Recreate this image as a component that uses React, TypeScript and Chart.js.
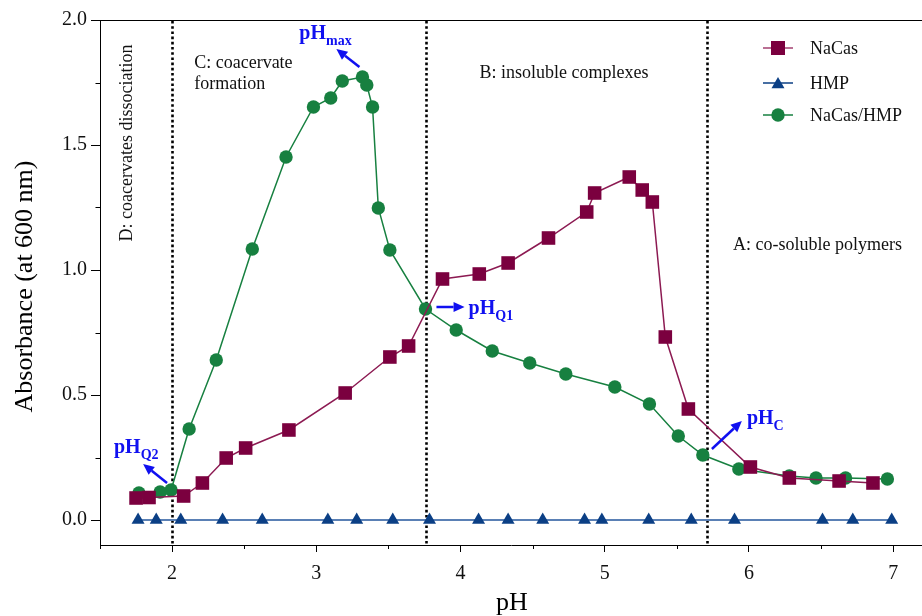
import React, { useEffect, useRef } from "react";
import { Chart, registerables } from "chart.js";

Chart.register(...registerables);

// ---------- data ----------
const nacasPH = [1.75, 1.84, 2.08, 2.21, 2.375, 2.51, 2.81, 3.2, 3.51, 3.64, 3.875, 4.13, 4.33, 4.61, 4.875, 4.93, 5.17, 5.26, 5.33, 5.42, 5.58, 6.01, 6.28, 6.625, 6.86];
const nacasAbs = [0.088, 0.09, 0.096, 0.148, 0.248, 0.288, 0.36, 0.508, 0.652, 0.696, 0.964, 0.984, 1.028, 1.128, 1.232, 1.308, 1.372, 1.32, 1.272, 0.732, 0.444, 0.212, 0.168, 0.156, 0.148];

const hmpPH = [1.764, 1.89, 2.06, 2.35, 2.625, 3.08, 3.28, 3.53, 3.785, 4.125, 4.33, 4.57, 4.86, 4.98, 5.305, 5.6, 5.9, 6.51, 6.72, 6.99];
const hmpAbs = [0, 0, 0, 0, 0, 0, 0, 0, 0, 0, 0, 0, 0, 0, 0, 0, 0, 0, 0, 0];

const mixPH = [1.77, 1.917, 1.993, 2.118, 2.306, 2.556, 2.79, 2.98, 3.1, 3.18, 3.32, 3.35, 3.39, 3.43, 3.51, 3.757, 3.97, 4.22, 4.48, 4.73, 5.07, 5.31, 5.51, 5.68, 5.93, 6.28, 6.465, 6.67, 6.96];
const mixAbs = [0.108, 0.112, 0.12, 0.364, 0.64, 1.084, 1.452, 1.652, 1.688, 1.756, 1.772, 1.74, 1.652, 1.248, 1.08, 0.844, 0.76, 0.676, 0.628, 0.584, 0.532, 0.464, 0.336, 0.26, 0.204, 0.176, 0.168, 0.168, 0.164];

const seriesNames = ["NaCas", "HMP", "NaCas/HMP"];
const xMajorTicks = [2, 3, 4, 5, 6, 7];
const xMinorTicks = [1.5, 2.5, 3.5, 4.5, 5.5, 6.5];
const yMajorTicks = [0, 0.5, 1.0, 1.5, 2.0];
const yMinorTicks = [0.25, 0.75, 1.25, 1.75];

const regionDividers = [2.0, 3.764, 5.708];

const regionLabels = [
  { text: "C: coacervate", x: 2.153, y: 1.828 },
  { text: "formation", x: 2.153, y: 1.744 },
  { text: "B: insoluble complexes", x: 4.132, y: 1.788 },
  { text: "A: co-soluble polymers", x: 5.889, y: 1.1 },
];
const rotatedLabel = { text: "D: coacervates dissociation", x: 1.6875, y: 1.508 };

const phLabels = [
  { sub: "max", x: 2.882, y: 1.944, ax1: 3.299, ay1: 1.812, ax2: 3.139, ay2: 1.884 },
  { sub: "Q1", x: 4.056, y: 0.844, ax1: 3.833, ay1: 0.852, ax2: 4.028, ay2: 0.852 },
  { sub: "Q2", x: 1.597, y: 0.288, ax1: 1.965, ay1: 0.148, ax2: 1.799, ay2: 0.224 },
  { sub: "C", x: 5.986, y: 0.404, ax1: 5.743, ay1: 0.284, ax2: 5.951, ay2: 0.396 },
];

// ---------- styles ----------
const SERIF = '"Liberation Serif", "Times New Roman", serif';
const C_NACAS = "#7b003f";
const C_NACAS_LINE = "#8c1a52";
const C_HMP = "#0b3f85";
const C_HMP_LINE = "#5a80b5";
const C_MIX = "#178040";
const C_BLUE = "#1010f0";

function toPts(xs: number[], ys: number[]) {
  return xs.map((x, i) => ({ x, y: ys[i] }));
}

function drawArrow(ctx: CanvasRenderingContext2D, x1: number, y1: number, x2: number, y2: number) {
  const ang = Math.atan2(y2 - y1, x2 - x1);
  const hl = 11;
  const hw = 5;
  const bx = x2 - hl * Math.cos(ang);
  const by = y2 - hl * Math.sin(ang);
  ctx.save();
  ctx.strokeStyle = C_BLUE;
  ctx.fillStyle = C_BLUE;
  ctx.lineWidth = 2.5;
  ctx.beginPath();
  ctx.moveTo(x1, y1);
  ctx.lineTo(bx, by);
  ctx.stroke();
  ctx.beginPath();
  ctx.moveTo(x2, y2);
  ctx.lineTo(bx + hw * Math.sin(ang), by - hw * Math.cos(ang));
  ctx.lineTo(bx - hw * Math.sin(ang), by + hw * Math.cos(ang));
  ctx.closePath();
  ctx.fill();
  ctx.restore();
}

function drawMarker(ctx: CanvasRenderingContext2D, style: string, x: number, y: number, color: string) {
  ctx.fillStyle = color;
  ctx.beginPath();
  if (style === "rect") {
    ctx.rect(x - 7, y - 7, 14, 14);
  } else if (style === "triangle") {
    const r = 7.5;
    ctx.moveTo(x, y - r);
    ctx.lineTo(x + r * Math.sin((2 * Math.PI) / 3), y - r * Math.cos((2 * Math.PI) / 3));
    ctx.lineTo(x + r * Math.sin((4 * Math.PI) / 3), y - r * Math.cos((4 * Math.PI) / 3));
    ctx.closePath();
  } else {
    ctx.arc(x, y, 6.7, 0, Math.PI * 2);
  }
  ctx.fill();
}

const overlayPlugin = {
  id: "overlay",
  beforeDatasetsDraw(chart: any) {
    const { ctx, chartArea, scales } = chart;
    ctx.save();
    ctx.strokeStyle = "#000";
    ctx.lineWidth = 2.6;
    ctx.setLineDash([2.6, 2.6]);
    for (const v of regionDividers) {
      const px = Math.round(scales.x.getPixelForValue(v)) + 0.5;
      ctx.beginPath();
      ctx.moveTo(px, chartArea.top + 1);
      ctx.lineTo(px, chartArea.bottom);
      ctx.stroke();
    }
    ctx.restore();
  },
  afterDatasetsDraw(chart: any) {
    const { ctx, scales } = chart;
    const xs = scales.x;
    const ys = scales.y;
    ctx.save();
    // region labels
    ctx.fillStyle = "#111";
    ctx.font = `18px ${SERIF}`;
    ctx.textAlign = "left";
    ctx.textBaseline = "middle";
    for (const l of regionLabels) {
      ctx.fillText(l.text, xs.getPixelForValue(l.x), ys.getPixelForValue(l.y));
    }
    ctx.save();
    ctx.translate(xs.getPixelForValue(rotatedLabel.x), ys.getPixelForValue(rotatedLabel.y));
    ctx.rotate(-Math.PI / 2);
    ctx.textAlign = "center";
    ctx.fillText(rotatedLabel.text, 0, 0);
    ctx.restore();

    // pH labels and arrows
    for (const p of phLabels) {
      drawArrow(ctx, xs.getPixelForValue(p.ax1), ys.getPixelForValue(p.ay1), xs.getPixelForValue(p.ax2), ys.getPixelForValue(p.ay2));
      const px = xs.getPixelForValue(p.x);
      const py = ys.getPixelForValue(p.y);
      ctx.fillStyle = C_BLUE;
      ctx.textAlign = "left";
      ctx.textBaseline = "middle";
      ctx.font = `bold 20px ${SERIF}`;
      ctx.fillText("pH", px, py);
      const w = ctx.measureText("pH").width;
      ctx.font = `bold 14px ${SERIF}`;
      ctx.fillText(p.sub, px + w, py + 7);
    }
    ctx.restore();
  },
  afterDraw(chart: any) {
    const { ctx, chartArea, scales } = chart;
    const xs = scales.x;
    const ys = scales.y;
    ctx.save();
    // top frame line
    ctx.strokeStyle = "#000";
    ctx.lineWidth = 1;
    ctx.beginPath();
    ctx.moveTo(chartArea.left, chartArea.top + 0.5);
    ctx.lineTo(chartArea.right, chartArea.top + 0.5);
    ctx.stroke();
    // minor ticks
    ctx.beginPath();
    for (const v of yMinorTicks) {
      const py = Math.round(ys.getPixelForValue(v)) + 0.5;
      ctx.moveTo(chartArea.left - 4.5, py);
      ctx.lineTo(chartArea.left, py);
    }
    for (const v of xMinorTicks) {
      const px = Math.round(xs.getPixelForValue(v)) + 0.5;
      ctx.moveTo(px, chartArea.bottom);
      ctx.lineTo(px, chartArea.bottom + 4);
    }
    ctx.stroke();

    // axis titles
    ctx.fillStyle = "#000";
    ctx.font = `26px ${SERIF}`;
    ctx.textAlign = "center";
    ctx.textBaseline = "alphabetic";
    ctx.fillText("pH", (chartArea.left + chartArea.right) / 2 + 1, 610);
    ctx.save();
    ctx.translate(32, (chartArea.top + chartArea.bottom) / 2 + 4);
    ctx.rotate(-Math.PI / 2);
    ctx.fillText("Absorbance (at 600 nm)", 0, 0);
    ctx.restore();

    // legend
    const legend = [
      { name: seriesNames[0], style: "rect", mc: C_NACAS, lc: "#a34070", y: 48 },
      { name: seriesNames[1], style: "triangle", mc: C_HMP, lc: C_HMP, y: 83 },
      { name: seriesNames[2], style: "circle", mc: C_MIX, lc: C_MIX, y: 115 },
    ];
    for (const l of legend) {
      ctx.strokeStyle = l.lc;
      ctx.lineWidth = 1.5;
      ctx.beginPath();
      ctx.moveTo(763, l.y);
      ctx.lineTo(793, l.y);
      ctx.stroke();
      drawMarker(ctx, l.style, 778, l.style === "triangle" ? l.y + 1.5 : l.y, l.mc);
      ctx.fillStyle = "#111";
      ctx.font = `18px ${SERIF}`;
      ctx.textAlign = "left";
      ctx.textBaseline = "middle";
      ctx.fillText(l.name, 810, l.y + 1);
    }
    ctx.restore();
  },
};

export default function App() {
  const canvasRef = useRef<HTMLCanvasElement | null>(null);

  useEffect(() => {
    if (!canvasRef.current) return;
    const chart = new Chart(canvasRef.current, {
      type: "scatter",
      data: {
        datasets: [
          {
            label: seriesNames[0],
            data: toPts(nacasPH, nacasAbs),
            showLine: true,
            borderColor: C_NACAS_LINE,
            borderWidth: 1.5,
            backgroundColor: C_NACAS,
            pointBackgroundColor: C_NACAS,
            pointBorderWidth: 0,
            pointStyle: "rect",
            pointRadius: 9.6,
            tension: 0,
          },
          {
            label: seriesNames[1],
            data: toPts(hmpPH, hmpAbs),
            showLine: true,
            borderColor: C_HMP_LINE,
            borderWidth: 2,
            backgroundColor: C_HMP,
            pointBackgroundColor: C_HMP,
            pointBorderWidth: 0,
            pointStyle: "triangle",
            pointRadius: 7.5,
            tension: 0,
          },
          {
            label: seriesNames[2],
            data: toPts(mixPH, mixAbs),
            showLine: true,
            borderColor: C_MIX,
            borderWidth: 1.5,
            backgroundColor: C_MIX,
            pointBackgroundColor: C_MIX,
            pointBorderWidth: 0,
            pointStyle: "circle",
            pointRadius: 6.7,
            tension: 0,
          },
        ],
      },
      options: {
        animation: false,
        responsive: true,
        maintainAspectRatio: false,
        layout: { autoPadding: false, padding: { top: 20, right: 0, left: 0, bottom: 0 } },
        plugins: {
          legend: { display: false },
          tooltip: { enabled: false },
          title: { display: false },
        },
        scales: {
          x: {
            type: "linear",
            min: 1.5,
            max: 7.2,
            afterBuildTicks: (s: any) => {
              s.ticks = xMajorTicks.map((v) => ({ value: v }));
            },
            afterFit: (s: any) => {
              s.height = 71;
              s.paddingLeft = 0;
              s.paddingRight = 0;
            },
            grid: { display: true, drawOnChartArea: false, drawTicks: true, tickLength: 7, color: "#000", lineWidth: 1 },
            border: { display: true, color: "#000", width: 1 },
            ticks: {
              color: "#111",
              font: { family: SERIF, size: 20 },
              padding: 10,
              maxRotation: 0,
              autoSkip: false,
              callback: (v: any) => String(v),
            },
          },
          y: {
            type: "linear",
            min: -0.1,
            max: 2.0,
            afterBuildTicks: (s: any) => {
              s.ticks = yMajorTicks.map((v) => ({ value: v }));
            },
            afterFit: (s: any) => {
              s.width = 100;
              s.paddingTop = 0;
              s.paddingBottom = 0;
            },
            grid: { display: true, drawOnChartArea: false, drawTicks: true, tickLength: 9, color: "#000", lineWidth: 1 },
            border: { display: true, color: "#000", width: 1 },
            ticks: {
              color: "#111",
              font: { family: SERIF, size: 20 },
              padding: 4,
              autoSkip: false,
              callback: (v: any) => Number(v).toFixed(1),
            },
          },
        },
      },
      plugins: [overlayPlugin],
    } as any);
    return () => chart.destroy();
  }, []);

  return (
    <div style={{ position: "fixed", left: 0, top: 0, width: 922, height: 616, background: "#fff" }}>
      <canvas ref={canvasRef} />
    </div>
  );
}
